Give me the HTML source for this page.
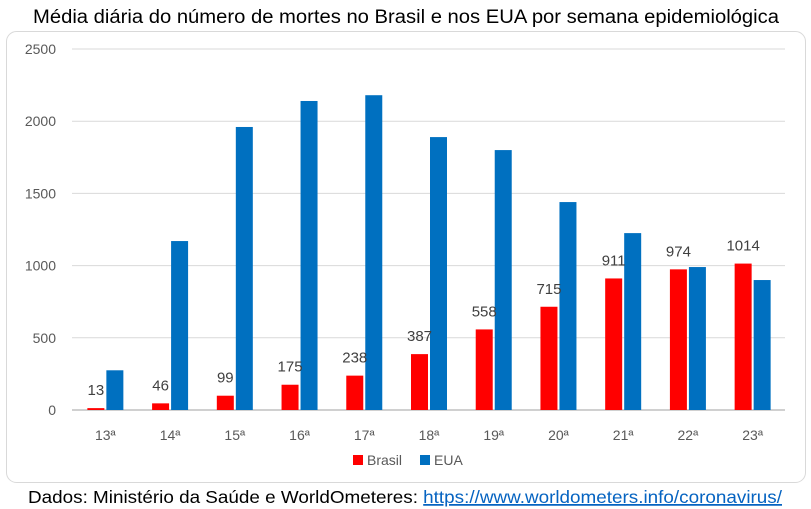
<!DOCTYPE html>
<html><head><meta charset="utf-8"><style>
body{margin:0;background:#fff;}
svg{display:block;font-family:"Liberation Sans",Calibri,sans-serif;}
</style></head><body>
<svg id="c" width="811" height="509">
<text x="406" y="23" text-anchor="middle" font-size="19" textLength="746" lengthAdjust="spacingAndGlyphs" fill="#000">Média diária do número de mortes  no Brasil e nos EUA por semana epidemiológica</text>
<rect x="6.5" y="31.5" width="799" height="451" rx="10" fill="#fff" stroke="#d9d9d9"/>
<g id="grid"></g><g id="bars"></g>
<g>
<rect x="353" y="455" width="10" height="10" fill="#ff0000"/>
<text x="367" y="465" font-size="14" fill="#595959">Brasil</text>
<rect x="420" y="455" width="10" height="10" fill="#0070c0"/>
<text x="434" y="465" font-size="14" fill="#595959">EUA</text>
</g>
<text x="405" y="503" text-anchor="middle" font-size="17.5" textLength="754" lengthAdjust="spacingAndGlyphs" fill="#000">Dados: Ministério da Saúde e WorldOmeteres: <tspan fill="#0563c1" text-decoration="underline">https://www.worldometers.info/coronavirus/</tspan></text>
</svg>
<script>
const categories=["13ª","14ª","15ª","16ª","17ª","18ª","19ª","20ª","21ª","22ª","23ª"];
const brasil=[13,46,99,175,238,387,558,715,911,974,1014];
const eua=[275,1170,1960,2140,2180,1890,1800,1440,1225,990,900];
const ticks=[0,500,1000,1500,2000,2500];
const NS="http://www.w3.org/2000/svg";
const x0=73,x1=785,y0=410,yTop=49,maxV=2500;
const bw=(x1-x0)/categories.length;
const y=v=>y0-(v/maxV)*(y0-yTop);
const cx=i=>x0+bw*(i+0.5);
function mk(t,a,p){const e=document.createElementNS(NS,t);for(const k in a)e.setAttribute(k,a[k]);p.appendChild(e);return e;}
const g=document.getElementById('grid'),b=document.getElementById('bars');
ticks.forEach(t=>{
 const l=mk('line',{x1:x0-1,x2:x1,y1:y(t),y2:y(t),stroke:t===0?'#d0d0d0':'#d9d9d9','stroke-width':t===0?2:1},g);
 
 
 const tx=mk('text',{x:56,y:y(t)+5,'text-anchor':'end','font-size':14,fill:'#595959'},g);
 tx.textContent=t;
 
 
});
categories.forEach((c,i)=>{
 const c0=cx(i);
 const r=mk('rect',{x:c0-18,y:y(brasil[i]),width:17,height:y0-y(brasil[i]),fill:'#ff0000'},b);
 
 
 const u=mk('rect',{x:c0+1,y:y(eua[i]),width:17,height:y0-y(eua[i]),fill:'#0070c0'},b);
 
 
 const lb=mk('text',{x:c0-9.5,y:y(brasil[i])-13,'text-anchor':'middle','font-size':15,fill:'#404040'},b);
 lb.textContent=brasil[i];
 
 
 const xl=mk('text',{x:c0,y:440,'text-anchor':'middle','font-size':14,fill:'#595959'},b);
 xl.textContent=c;
 
 
});
</script>
</body></html>
